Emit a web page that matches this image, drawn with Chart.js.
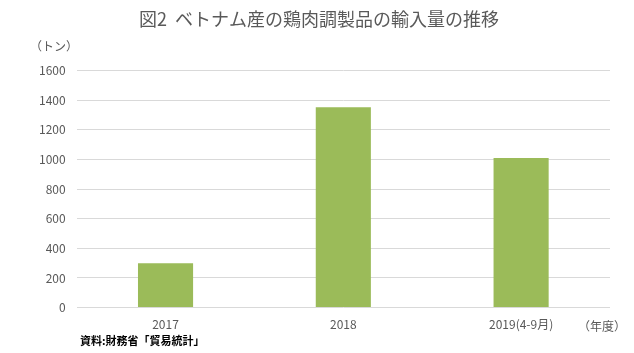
<!DOCTYPE html>
<html><head><meta charset="utf-8">
<script src="https://cdn.jsdelivr.net/npm/chart.js@4.4.0/dist/chart.umd.min.js"></script>
<style>html,body{margin:0;padding:0;background:#fff;}#w{width:634px;height:353px;}</style>
</head><body><div id="w"><canvas id="c"></canvas></div>
<script>
const categories = ['2017', '2018', '2019(4-9月)'];
const imports = [300, 1352, 1010];
const titleText = '図2  ベトナム産の鶏肉調製品の輸入量の推移';
const yUnit = '（トン）';
const xUnit = '（年度）';
const sourceText = '資料:財務省「貿易統計」';
const FONT = '"Noto Sans CJK JP", "Noto Sans", sans-serif';

const extraText = {
  id: 'extraText',
  afterDraw(chart) {
    const ctx = chart.ctx;
    ctx.save();
    ctx.fillStyle = '#595959';
    ctx.font = '12px ' + FONT;
    ctx.textBaseline = 'middle';
    ctx.textAlign = 'left';
    ctx.fillText(yUnit, 30, 46);
    ctx.fillText(xUnit, 578, 326);
    ctx.fillStyle = '#000';
    ctx.font = 'bold 11px ' + FONT;
    ctx.fillText(sourceText, 80, 341);
    ctx.restore();
  }
};

new Chart(document.getElementById('c'), {
  type: 'bar',
  data: { labels: categories, datasets: [{ data: imports, backgroundColor: '#9bbb59', barPercentage: 0.62, categoryPercentage: 0.5 }] },
  options: {
    responsive: true, maintainAspectRatio: false, animation: false,
    layout: { padding: { left: 28, right: 24, top: 0, bottom: 11 } },
    plugins: {
      legend: { display: false }, tooltip: { enabled: false },
      title: { display: true, text: titleText, color: '#595959', font: { family: FONT, size: 18, weight: 'normal' }, padding: { top: 8, bottom: 41 } }
    },
    scales: {
      x: { grid: { display: false, drawTicks: false }, border: { display: false },
           ticks: { color: '#595959', font: { family: FONT, size: 12 }, padding: 10 } },
      y: { min: 0, max: 1600, ticks: { stepSize: 200, color: '#595959', font: { family: FONT, size: 12 }, padding: 11, callback: v => String(v) },
           grid: { color: '#d9d9d9', drawTicks: false }, border: { display: false } }
    }
  },
  plugins: [extraText]
});
</script></body></html>
